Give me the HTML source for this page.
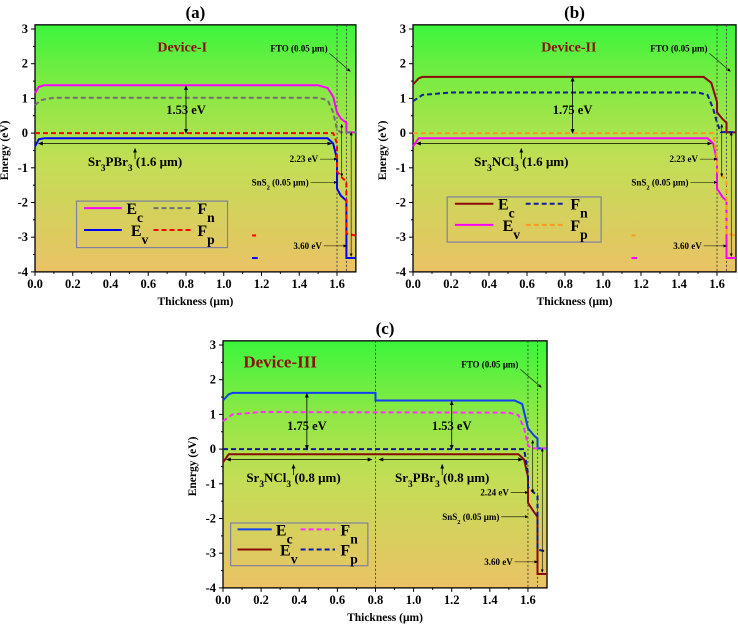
<!DOCTYPE html>
<html><head><meta charset="utf-8"><style>
html,body{margin:0;padding:0;background:#fff;width:738px;height:626px;overflow:hidden}
svg{display:block;font-family:"Liberation Serif",serif;font-weight:bold}
</style></head><body>
<svg id="fig" width="738" height="626" viewBox="0 0 738 626" xmlns="http://www.w3.org/2000/svg">
<defs>
<linearGradient id="bg" x1="0" y1="0" x2="0" y2="1">
<stop offset="0" stop-color="#3cf53c"/><stop offset="0.3" stop-color="#8ee845"/><stop offset="0.55" stop-color="#c2de55"/><stop offset="1" stop-color="#eac265"/>
</linearGradient>
<marker id="ah" markerWidth="6" markerHeight="6" refX="5" refY="3" orient="auto"><path d="M0,0.5 L6,3 L0,5.5 z" fill="#000"/></marker>
<marker id="at" markerWidth="6" markerHeight="6" refX="1" refY="3" orient="auto"><path d="M6,0.5 L0,3 L6,5.5 z" fill="#000"/></marker>
</defs>
</svg>
<script>
// ---- data (x in µm, energy in eV) ----
const xTicks = [0,0.2,0.4,0.6,0.8,1.0,1.2,1.4,1.6];
const yTicks = [3,2,1,0,-1,-2,-3,-4];
// Panel (a) Device-I
const aEc = [[0,1.15],[0.02,1.33],[0.05,1.38],[1.5,1.38],[1.55,1.3],[1.58,1.05],[1.6,0.6],[1.62,0.42],[1.65,0.3],[1.65,0.02],[1.7,0.02]];
const aEv = [[0,-0.38],[0.02,-0.18],[0.05,-0.15],[1.55,-0.15],[1.58,-0.3],[1.6,-0.75],[1.6,-1.6],[1.62,-1.8],[1.65,-1.95],[1.65,-3.6],[1.7,-3.6]];
const aFn = [[0,0.8],[0.03,0.95],[0.1,1.02],[1.5,1.02],[1.55,0.95],[1.58,0.6],[1.6,0.1],[1.62,0.02],[1.7,0.02]];
const aFp = [[0,0],[1.58,0],[1.6,-0.3],[1.6,-1.1],[1.62,-1.25],[1.65,-1.4],[1.65,-2.9],[1.7,-2.95]];
// Panel (b) Device-II
const bEc = [[0,1.4],[0.03,1.58],[0.05,1.62],[1.53,1.62],[1.57,1.45],[1.6,0.9],[1.6,0.6],[1.63,0.4],[1.65,0.3],[1.65,0.02],[1.7,0.02]];
const bEv = [[0,-0.38],[0.03,-0.15],[1.55,-0.15],[1.58,-0.3],[1.6,-0.8],[1.6,-1.6],[1.63,-1.85],[1.65,-1.95],[1.65,-3.6],[1.7,-3.6]];
const bFn = [[0,0.92],[0.05,1.1],[0.2,1.17],[1.5,1.17],[1.55,1.1],[1.58,0.7],[1.6,0.3],[1.62,0.03],[1.7,0.03]];
const bFp = [[0,0],[1.58,0],[1.6,-0.7],[1.6,-1.1],[1.63,-1.25],[1.65,-1.4],[1.65,-2.9],[1.7,-2.95]];
// Panel (c) Device-III
const cEc = [[0,1.4],[0.03,1.58],[0.05,1.62],[0.8,1.62],[0.8,1.4],[1.53,1.4],[1.57,1.3],[1.6,0.6],[1.63,0.4],[1.65,0.3],[1.65,0.02],[1.7,0.02]];
const cEv = [[0,-0.38],[0.03,-0.15],[1.55,-0.15],[1.58,-0.3],[1.6,-0.8],[1.6,-1.55],[1.63,-1.8],[1.65,-1.95],[1.65,-3.6],[1.7,-3.6]];
const cFn = [[0,0.8],[0.05,1.0],[0.2,1.07],[1.5,1.05],[1.55,0.98],[1.58,0.6],[1.6,0.1],[1.62,0.02],[1.7,0.02]];
const cFp = [[0,0],[1.58,0],[1.6,-0.7],[1.6,-1.1],[1.63,-1.25],[1.65,-1.35],[1.65,-2.9],[1.7,-2.95]];

const NS="http://www.w3.org/2000/svg";
const svg=document.getElementById('fig');
function mk(tag,attrs,parent){const e=document.createElementNS(NS,tag);for(const k in attrs)e.setAttribute(k,attrs[k]);(parent||svg).appendChild(e);return e;}
function txt(parent,x,y,parts,size,fill,anchor,subScale){
  const t=mk('text',{x:x,y:y,'font-size':size,fill:fill||'#000','text-anchor':anchor||'start'},parent);
  parts.forEach(p=>{const s=mk('tspan',{},t);if(p[1])s.setAttribute('baseline-shift','sub'),s.setAttribute('font-size',size*(subScale||0.72));s.textContent=p[0];});
  return t;
}

function panel(cfg){
  const g=mk('g',{});
  
  
  const X=v=>cfg.x0+v*cfg.sx, Y=v=>cfg.y0+(3-v)*34.7;
  const bg=mk('rect',{x:X(0),y:Y(3.12),width:X(1.7)-X(0),height:Y(-4)-Y(3.12),fill:'url(#bg)',stroke:'#000','stroke-width':1.3},g);
  
  
  xTicks.forEach(v=>{mk('line',{x1:X(v),x2:X(v),y1:Y(-4),y2:Y(-4)+4,stroke:'#000'},g);
    const t=txt(g,X(v),Y(-4)+16,[[v.toFixed(1)]],12.5,'#000','middle');
    
    });
  xTicks.forEach(v=>{if(v+0.1<=1.7)mk('line',{x1:X(v+0.1),x2:X(v+0.1),y1:Y(-4),y2:Y(-4)+2,stroke:'#000'},g);});
  yTicks.forEach(v=>{mk('line',{x1:X(0)-4,x2:X(0),y1:Y(v),y2:Y(v),stroke:'#000'},g);
    if(v>-4)mk('line',{x1:X(0)-2,x2:X(0),y1:Y(v-0.5),y2:Y(v-0.5),stroke:'#000'},g);
    const t=txt(g,X(0)-7,Y(v)+4,[[String(v)]],12.5,'#000','end');
    
    });
  const xt=txt(g,X(0.85),Y(-4)+33,[['Thickness ('],['\u03bcm'],[')']],11.5,'#000','middle');
  
  
  const yt=txt(g,0,0,[['Energy (eV)']],11.5,'#000','middle');
  yt.setAttribute('transform',`translate(${X(0)-27},${Y(-0.5)}) rotate(-90)`);
  
  
  const pt=txt(g,X(0.85),cfg.titleY,[[cfg.title]],17,'#000','middle');
  
  
  cfg.bounds.forEach(b=>{const l=mk('line',{x1:X(b),x2:X(b),y1:Y(3.12),y2:Y(-4),stroke:'#333','stroke-width':0.8,'stroke-dasharray':'2,2'},g);
    });
  const pts=a=>a.map(p=>X(p[0]).toFixed(1)+','+Y(p[1]).toFixed(1)).join(' ');
  cfg.series.forEach(s=>{const l=mk('polyline',{points:pts(s.d),fill:'none',stroke:s.c,'stroke-width':2,'stroke-dasharray':s.dash?'5,3':'none'},g);
    });
  cfg.stray.forEach(s=>{mk('line',{x1:X(1.15),x2:X(1.18),y1:Y(s[1]),y2:Y(s[1]),stroke:s[0],'stroke-width':2,'stroke-dasharray':s[2]?'4,3':'none'},g);});
  const arrow=(x1,y1,x2,y2,both,w)=>{const l=mk('line',{x1:X(x1),y1:Y(y1),x2:X(x2),y2:Y(y2),stroke:'#000','stroke-width':w||0.8,'marker-end':'url(#ah)'},g);if(both)l.setAttribute('marker-start','url(#at)');return l;};
  const dl=txt(g,X(cfg.devX),Y(2.35),[[cfg.device]],cfg.devSize,'#8b1010','middle');
  
  cfg.gaps.forEach(gp=>{arrow(gp.x,0,gp.x,gp.top,true);
    const t=txt(g,X(gp.x),Y(0.55),[[gp.label]],12.5,'#000','middle');});
  cfg.layers.forEach(ly=>{arrow(ly.x1,-0.3,ly.x2,-0.3,true);arrow(ly.ax,-0.75,ly.ax,-0.45,false);
    const t=txt(g,X(ly.tx),Y(-0.95),ly.parts,13,'#000','middle');});
  const f=txt(g,X(1.55),Y(2.35),[['FTO (0.05 '],['\u03bcm'],[')']],9,'#000','end');
  arrow(1.56,2.3,1.67,1.78,false,0.6);
  const g1=txt(g,X(1.5),Y(cfg.gapY)+3,[[cfg.gap2]],9,'#000','end');
  arrow(1.51,cfg.gapY,1.6,cfg.gapY,false,0.6);
  const s2=txt(g,X(1.45),Y(cfg.snsY)+3,[['SnS'],['2',1],[' (0.05 '],['\u03bcm'],[')']],9,'#000','end');
  arrow(1.46,cfg.snsY,1.6,cfg.snsY,false,0.6);
  const f3=txt(g,X(1.52),Y(-3.25)+3,[['3.60 eV']],9,'#000','end');
  arrow(1.53,-3.25,1.65,-3.25,false,0.6);
  arrow(1.625,0.25,1.625,-1.25,true,0.6);
  arrow(1.675,0.02,1.675,-3.55,true,0.6);
  // legend
  const L=cfg.leg;const lg=mk('g',{},g);
  
  const bx=X(L.x1),by=Y(L.y1),bw=X(L.x2)-X(L.x1),bh=Y(L.y2)-Y(L.y1);
  mk('rect',{x:bx,y:by,width:bw,height:bh,fill:'none',stroke:'#8080a0','stroke-width':1.2},lg);
  const ent=[[cfg.series[0],0,0,'E','c',0.33],[cfg.series[2],1,0,'F','n',0.8],[cfg.series[1],0,1,'E','v',0.36],[cfg.series[3],1,1,'F','p',0.8]];
  ent.forEach(e=>{const s=e[0];const lx=bx+bw*(e[1]?0.51:0.05),ly=by+bh*(e[2]?0.62:0.15);
    const l=mk('line',{x1:lx,x2:lx+bw*0.25,y1:ly,y2:ly,stroke:s.c,'stroke-width':2,'stroke-dasharray':s.dash?'5,3':'none'},lg);
    
    const t=txt(lg,bx+bw*e[5],ly+6,[[e[3]],[e[4],1]],16,'#000','start',0.85);
    });
}

panel({name:'panel-a',x0:35,sx:188.75,y0:29,title:'(a)',titleY:18,device:'Device-I',devX:0.78,devSize:14,bounds:[1.6,1.65],
  series:[{n:'ec-line',d:aEc,c:'#ff00ff'},{n:'ev-line',d:aEv,c:'#0000ff'},{n:'fn-line',d:aFn,c:'#707070',dash:1},{n:'fp-line',d:aFp,c:'#ff0000',dash:1}],
  stray:[['#ff0000',-2.95,1],['#0000ff',-3.6]],
  gaps:[{x:0.8,top:1.36,label:'1.53 eV'}],
  layers:[{x1:0.02,x2:1.57,ax:0.53,tx:0.53,parts:[['Sr'],['3',1],['PBr'],['3',1],[' (1.6 '],['\u03bcm'],[')']]}],
  gap2:'2.23 eV',gapY:-0.75,snsY:-1.42,
  leg:{x1:0.22,x2:1.02,y1:-1.96,y2:-3.3}});
panel({name:'panel-b',x0:413,sx:190,y0:29,title:'(b)',titleY:18,device:'Device-II',devX:0.82,devSize:14,bounds:[1.6,1.65],
  series:[{n:'ec-line',d:bEc,c:'#8b0a0a'},{n:'ev-line',d:bEv,c:'#ff00ff'},{n:'fn-line',d:bFn,c:'#1020a0',dash:1},{n:'fp-line',d:bFp,c:'#ff9a20',dash:1}],
  stray:[['#ff9a20',-2.95,1],['#ff00ff',-3.6]],
  gaps:[{x:0.84,top:1.6,label:'1.75 eV'}],
  layers:[{x1:0.02,x2:1.57,ax:0.57,tx:0.57,parts:[['Sr'],['3',1],['NCl'],['3',1],[' (1.6 '],['\u03bcm'],[')']]}],
  gap2:'2.23 eV',gapY:-0.75,snsY:-1.42,
  leg:{x1:0.18,x2:0.99,y1:-1.84,y2:-3.14}});
panel({name:'panel-c',x0:223,sx:190.6,y0:345,title:'(c)',titleY:334,device:'Device-III',devX:0.3,devSize:17,bounds:[0.8,1.6,1.65],
  series:[{n:'ec-line',d:cEc,c:'#1040f0'},{n:'ev-line',d:cEv,c:'#8b0a0a'},{n:'fn-line',d:cFn,c:'#ff30ff',dash:1},{n:'fp-line',d:cFp,c:'#0a1a9a',dash:1}],
  stray:[],
  gaps:[{x:0.44,top:1.6,label:'1.75 eV'},{x:1.2,top:1.38,label:'1.53 eV'}],
  layers:[{x1:0.02,x2:0.78,ax:0.37,tx:0.37,parts:[['Sr'],['3',1],['NCl'],['3',1],[' (0.8 '],['\u03bcm'],[')']]},
          {x1:0.82,x2:1.57,ax:1.15,tx:1.15,parts:[['Sr'],['3',1],['PBr'],['3',1],[' (0.8 '],['\u03bcm'],[')']]}],
  gap2:'2.24 eV',gapY:-1.25,snsY:-1.95,
  leg:{x1:0.04,x2:0.76,y1:-2.13,y2:-3.36}});
</script>
</body></html>
